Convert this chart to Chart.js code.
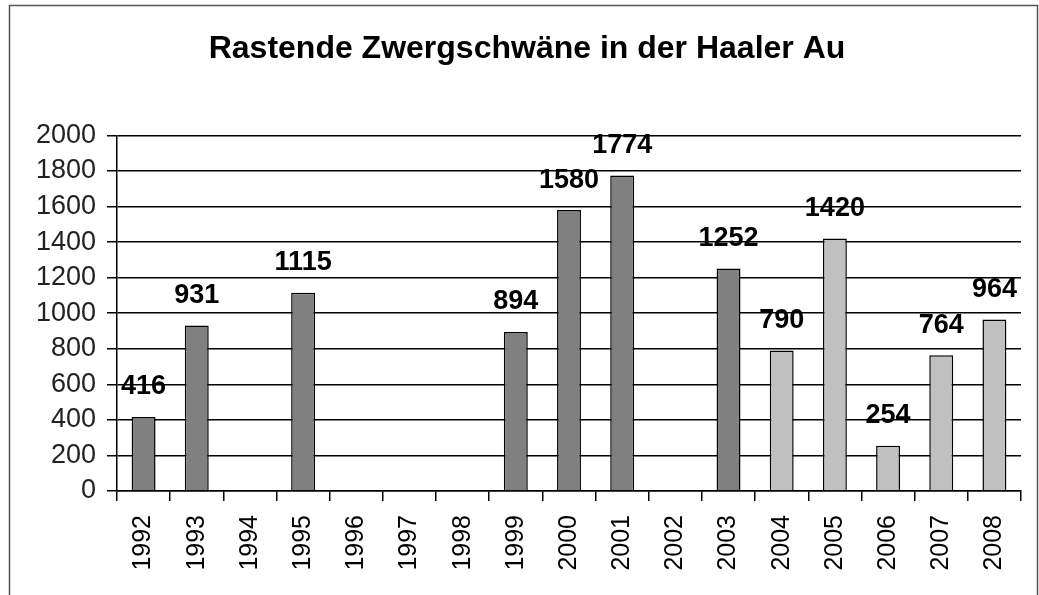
<!DOCTYPE html>
<html>
<head>
<meta charset="utf-8">
<script src="https://cdn.jsdelivr.net/npm/chart.js@4"></script>
<style>
  html, body { margin: 0; padding: 0; background: #fff; }
  #wrap { width: 1039px; height: 595px; }
</style>
</head>
<body>
<div id="wrap"><canvas id="chart" width="1039" height="595"></canvas></div>
<script>
// Data
const years = ['1992', '1993', '1994', '1995', '1996', '1997', '1998', '1999', '2000',
               '2001', '2002', '2003', '2004', '2005', '2006', '2007', '2008'];
const swans = [416, 931, null, 1115, null, null, null, 894, 1580,
               1774, null, 1252, 790, 1420, 254, 764, 964];
const yTicks = [0, 200, 400, 600, 800, 1000, 1200, 1400, 1600, 1800, 2000];

const titleText = 'Rastende Zwergschwäne in der Haaler Au';
const FONT = '"Liberation Sans", Arial, sans-serif';

Chart.defaults.font.family = FONT;
Chart.defaults.color = '#000';

// outer frame of the chart
const framePlugin = {
    id: 'frame',
    beforeDraw(chart) {
        const ctx = chart.ctx;
        ctx.save();
        ctx.fillStyle = '#fff';
        ctx.fillRect(0, 0, chart.width, chart.height);
        ctx.strokeStyle = '#555';
        ctx.lineWidth = 1.5;
        ctx.strokeRect(9.5, 5.5, 1028, 700);
        ctx.restore();
    }
};

// value labels above the bars
const valueLabels = {
    id: 'valueLabels',
    afterDatasetsDraw(chart) {
        const ctx = chart.ctx;
        const meta = chart.getDatasetMeta(0);
        ctx.save();
        ctx.font = 'bold 27px ' + FONT;
        ctx.fillStyle = '#000';
        ctx.textAlign = 'center';
        ctx.textBaseline = 'middle';
        meta.data.forEach((bar, i) => {
            const v = swans[i];
            if (v === null || v === undefined) return;
            ctx.fillText(String(v), bar.x, bar.y - 30);
        });
        ctx.restore();
    }
};

const ctx = document.getElementById('chart').getContext('2d');
new Chart(ctx, {
    type: 'bar',
    data: {
        labels: years,
        datasets: [{
            label: 'Zwergschwäne',
            data: swans,
            backgroundColor: (c) => parseInt(years[c.dataIndex]) >= 2004 ? '#c0c0c0' : '#808080',
            borderColor: '#000',
            borderWidth: 1.5,
            barPercentage: 0.45,
            categoryPercentage: 1.0
        }]
    },
    options: {
        responsive: false,
        animation: false,
        layout: { padding: { left: 33, right: 18, top: 0, bottom: 0 } },
        plugins: {
            legend: { display: false },
            tooltip: { enabled: false },
            title: {
                display: true,
                text: titleText,
                color: '#000',
                font: { size: 32, weight: 'bold', family: FONT },
                padding: { top: 30, bottom: 67 }
            }
        },
        scales: {
            x: {
                afterFit(scale) { scale.height = 104; },
                grid: {
                    display: true,
                    drawOnChartArea: false,
                    drawTicks: true,
                    tickLength: 10,
                    color: '#000',
                    lineWidth: 1.5
                },
                border: { display: true, color: '#000', width: 1.5 },
                ticks: {
                    autoSkip: false,
                    minRotation: 90,
                    maxRotation: 90,
                    padding: 14,
                    color: '#000',
                    font: { size: 25, family: FONT }
                }
            },
            y: {
                min: 0,
                max: 2000,
                afterFit(scale) { scale.width = 84; },
                afterBuildTicks(scale) { scale.ticks = yTicks.map(v => ({ value: v })); },
                grid: {
                    color: '#000',
                    lineWidth: 1.5,
                    tickLength: 10
                },
                border: { display: true, color: '#000', width: 1.5 },
                ticks: {
                    padding: 11,
                    color: '#222',
                    callback: (v) => String(v),
                    font: { size: 27, family: FONT }
                }
            }
        }
    },
    plugins: [framePlugin, valueLabels]
});
</script>
</body>
</html>
